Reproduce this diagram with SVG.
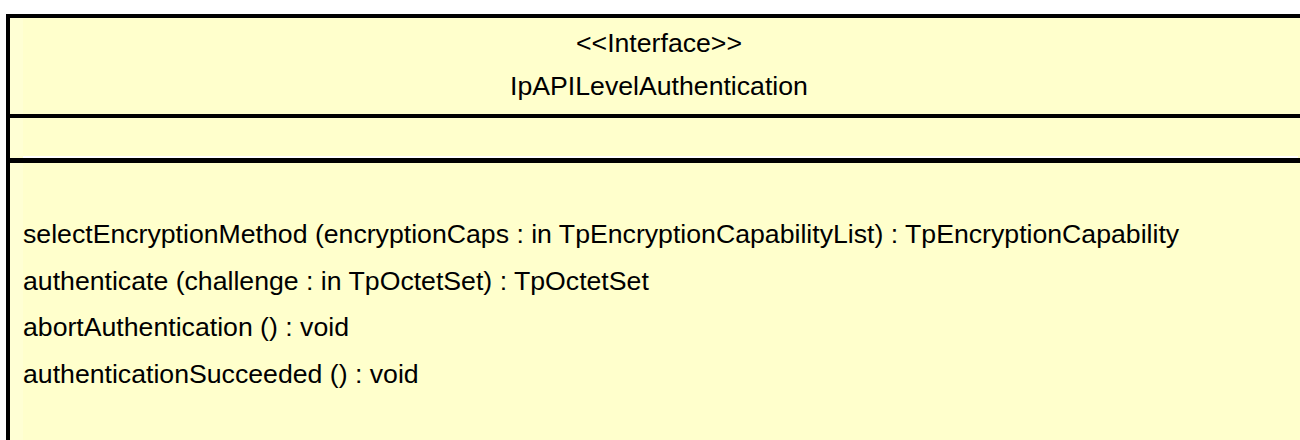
<svg xmlns="http://www.w3.org/2000/svg" width="1300" height="440" viewBox="0 0 1300 440">
  <style>
    text { font-family: "Liberation Sans", Arial, sans-serif; font-size: 26.67px; fill: #000000; }
    .title { text-anchor: middle; }
    .border { fill: #000000; }
  </style>
  <rect x="0" y="0" width="1300" height="440" fill="#FFFFFF"/>
  <g id="IpAPILevelAuthentication">
    <rect x="10" y="18" width="1290" height="422" fill="#FFFFCC"/>
    <rect x="10" y="18" width="13" height="422" fill="#FFFFD4"/>
    <rect x="23" y="156" width="1275" height="2" fill="#FFFFFF"/>
    <rect class="border" x="6" y="14" width="1294" height="4"/>
    <rect class="border" x="6" y="14" width="4" height="426"/>
    <rect class="border" x="10" y="114" width="1290" height="4"/>
    <rect class="border" x="10" y="158" width="1290" height="5"/>
    <text class="title" x="659" y="52">&lt;&lt;Interface&gt;&gt;</text>
    <text class="title" x="659" y="95">IpAPILevelAuthentication</text>
    <text x="23" y="243">selectEncryptionMethod (encryptionCaps : in TpEncryptionCapabilityList) : TpEncryptionCapability</text>
    <text x="23" y="290">authenticate (challenge : in TpOctetSet) : TpOctetSet</text>
    <text x="23" y="336">abortAuthentication () : void</text>
    <text x="23" y="383">authenticationSucceeded () : void</text>
  </g>
  <g id="connectors"/>
</svg>
